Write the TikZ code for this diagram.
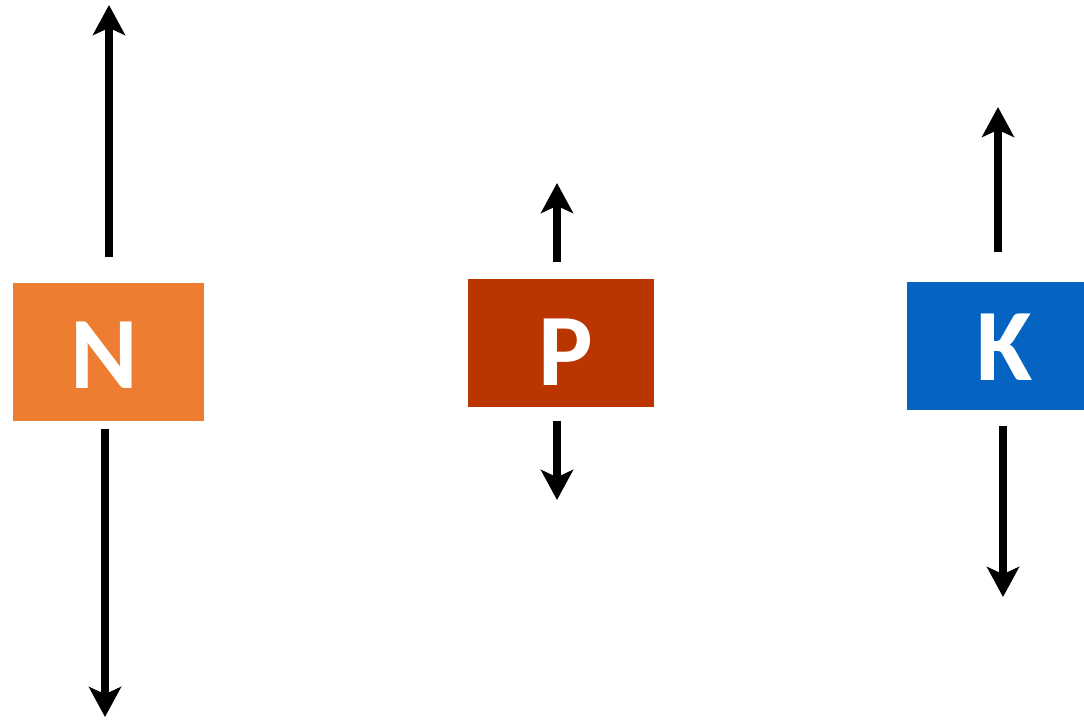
\documentclass[tikz,border=0pt]{standalone}
\usepackage{fontspec}
\setmainfont{Carlito}
\usetikzlibrary{arrows.meta}
\definecolor{nOrange}{HTML}{ED7D31}
\definecolor{pRust}{HTML}{BA3500}
\definecolor{kBlue}{HTML}{0563C1}

\begin{document}
\begin{tikzpicture}[
  x=0.025cm, y=-0.025cm,
  block/.style={fill=#1,draw=none,inner sep=0pt},
  letter/.style={text=white,inner sep=0pt,font=\fontsize{73}{73}\selectfont\bfseries},
  arr/.style={line width=0.2cm,-{Stealth[length=0.75cm,width=0.8cm,inset=0.18cm]}}]
\useasboundingbox (0,0) rectangle (1084,719);
% the three blocks
\node[block=nOrange,minimum width=4.775cm,minimum height=3.45cm] (n) at (108.5,352) {};
\node[block=pRust,minimum width=4.65cm,minimum height=3.2cm] (p) at (561,343) {};
\node[block=kBlue,minimum width=4.425cm,minimum height=3.2cm] (k) at (995.5,346) {};
\node[letter] (nl) at (104,355) {N};
\node[letter] (pl) at (566,352) {P};
\node[letter] (kl) at (1005,347) {K};
% arrow ends
\coordinate (nUp0) at (109,257); \coordinate (nUp) at (109,5);
\coordinate (nDn0) at (105,429); \coordinate (nDn) at (105,717);
\coordinate (pUp0) at (557,262); \coordinate (pUp) at (557,183);
\coordinate (pDn0) at (557,421); \coordinate (pDn) at (557,500);
\coordinate (kUp0) at (998,252); \coordinate (kUp) at (998,107);
\coordinate (kDn0) at (1003,426); \coordinate (kDn) at (1003,597);
\draw[arr] (nUp0) -- (nUp);
\draw[arr] (nDn0) -- (nDn);
\draw[arr] (pUp0) -- (pUp);
\draw[arr] (pDn0) -- (pDn);
\draw[arr] (kUp0) -- (kUp);
\draw[arr] (kDn0) -- (kDn);
\end{tikzpicture}
\end{document}
